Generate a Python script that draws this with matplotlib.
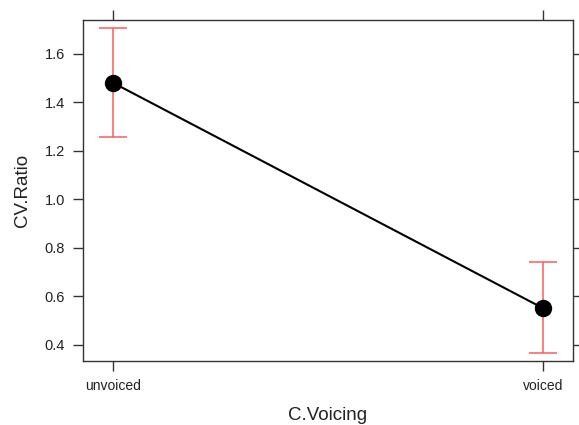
import matplotlib
matplotlib.use("Agg")
import matplotlib.pyplot as plt

plt.rcParams['font.family'] = ['Liberation Sans', 'DejaVu Sans']

categories = ["unvoiced", "voiced"]
fit = [1.481, 0.551]
upper = [1.705, 0.741]
lower = [1.258, 0.366]

fig = plt.figure(figsize=(5.79, 4.25), dpi=100)
ax = fig.add_axes([83 / 579, 1 - 361 / 425, (573 - 83) / 579, (361 - 20) / 425])

x = list(range(len(categories)))
yerr = [[f - l for f, l in zip(fit, lower)], [u - f for f, u in zip(fit, upper)]]
ax.errorbar(x, fit, yerr=yerr, fmt="none", ecolor="#ff5a5a", elinewidth=1.1,
            capsize=10, capthick=1.1, zorder=2)
ax.plot(x, fit, color="black", lw=1.5, zorder=3)
ax.plot(x, fit, "o", color="black", ms=11.5, zorder=4)

ax.set_xlim(-0.069, 1.069)
ax.set_ylim(0.334, 1.739)
ax.set_xticks(x)
ax.set_xticklabels(categories)
ax.set_yticks([0.4, 0.6, 0.8, 1.0, 1.2, 1.4, 1.6])

for s in ax.spines.values():
    s.set_color("#333333")
    s.set_linewidth(1.0)
ax.tick_params(direction="out", length=7, width=1.0, color="#333333",
               labelcolor="#222222", labelsize=10.5, pad=6,
               top=True, right=True, labeltop=False, labelright=False)
ax.tick_params(axis="x", labelsize=10, pad=6)

ax.set_ylabel("CV.Ratio", fontsize=13.5, color="#222222", labelpad=10)
ax.set_xlabel("C.Voicing", fontsize=13.5, color="#222222", labelpad=10)

fig.savefig("out.png", dpi=100)
